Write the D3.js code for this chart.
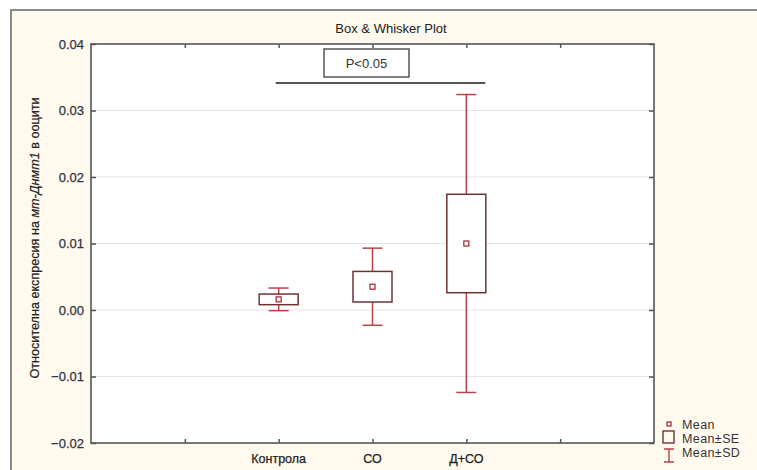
<!DOCTYPE html>
<html>
<head>
<meta charset="utf-8">
<script src="https://cdn.jsdelivr.net/npm/d3@7"></script>
<style>
  html, body { margin: 0; padding: 0; background: #fff; overflow: hidden; width: 757px; height: 470px; }
  svg { display: block; overflow: hidden; font-family: "Liberation Sans", Arial, sans-serif; }
</style>
</head>
<body>
<svg id="chart" width="757" height="470"></svg>
<script>
// group names and statistics
var categories = ["Контрола", "СО", "Д+СО"];
var means = [0.0016, 0.0035, 0.0100];
var stdErrors = [0.0008, 0.0023, 0.0074];
var stdDevs = [0.0017, 0.0058, 0.0224];
var yTicks = [-0.02, -0.01, 0.00, 0.01, 0.02, 0.03, 0.04];

var svg = d3.select('#chart');

var red = '#b8424a';
var darkRed = '#6e3434';
var frame = '#555';

// cream panel behind everything, only its top and left border are in view
svg.append('rect')
  .attr('x', 11).attr('y', 10)
  .attr('width', 760).attr('height', 470)
  .attr('fill', '#fff9ee');
svg.append('line')
  .attr('x1', 11).attr('x2', 11).attr('y1', 9).attr('y2', 480)
  .attr('stroke', '#8a8a8a').attr('stroke-width', 2);
svg.append('line')
  .attr('x1', 10).attr('x2', 780).attr('y1', 10).attr('y2', 10)
  .attr('stroke', '#8a8a8a').attr('stroke-width', 2);

var plotLeft = 91, plotRight = 654, plotTop = 44, plotBottom = 443;

// 7 slots, groups sit in slots 2..4
var x = d3.scaleLinear().domain([0, 6]).range([plotLeft, plotRight]);
var y = d3.scaleLinear().domain([-0.02, 0.04]).range([plotBottom, plotTop]);

svg.append('rect')
  .attr('x', plotLeft).attr('y', plotTop)
  .attr('width', plotRight - plotLeft).attr('height', plotBottom - plotTop)
  .attr('fill', '#fff');

// gridlines
svg.append('g')
  .selectAll('line')
  .data(yTicks.slice(1, -1))
  .enter()
  .append('line')
  .attr('x1', plotLeft).attr('x2', plotRight)
  .attr('y1', d => y(d)).attr('y2', d => y(d))
  .attr('stroke', '#e4e4e4')
  .attr('stroke-width', 1);

// axes, ticks pointing inward on all sides
var tickFmt = d3.format('.2f');
var yAxis = svg.append('g')
  .attr('transform', 'translate(' + plotLeft + ',0)')
  .call(d3.axisRight(y).tickValues(yTicks).tickSize(5).tickFormat(''));
var yAxisR = svg.append('g')
  .attr('transform', 'translate(' + plotRight + ',0)')
  .call(d3.axisLeft(y).tickValues(yTicks).tickSize(5).tickFormat(''));
var xAxisB = svg.append('g')
  .attr('transform', 'translate(0,' + plotBottom + ')')
  .call(d3.axisTop(x).tickValues([1, 2, 3, 4, 5]).tickSize(4).tickFormat(''));
var xAxisT = svg.append('g')
  .attr('transform', 'translate(0,' + plotTop + ')')
  .call(d3.axisBottom(x).tickValues([1, 2, 3, 4, 5]).tickSize(4).tickFormat(''));
[yAxis, yAxisR, xAxisB, xAxisT].forEach(function(g) {
  g.select('.domain').remove();
  g.selectAll('.tick line').attr('stroke', frame).attr('stroke-width', 1.5);
});

svg.append('rect')
  .attr('x', plotLeft).attr('y', plotTop)
  .attr('width', plotRight - plotLeft).attr('height', plotBottom - plotTop)
  .attr('fill', 'none')
  .attr('stroke', frame)
  .attr('stroke-width', 1.6);

// y tick labels
svg.append('g')
  .selectAll('text')
  .data(yTicks)
  .enter()
  .append('text')
  .attr('x', 84)
  .attr('y', d => y(d) + 4.5)
  .attr('text-anchor', 'end')
  .attr('font-size', 13)
  .attr('fill', '#2e3340')
  .attr('stroke', '#2e3340').attr('stroke-width', 0.25)
  .text(d => tickFmt(d));

// x labels
svg.append('g')
  .selectAll('text')
  .data(categories)
  .enter()
  .append('text')
  .attr('x', (d, i) => x(i + 2))
  .attr('y', 463)
  .attr('text-anchor', 'middle')
  .attr('font-size', 12.5)
  .attr('fill', '#222')
  .attr('stroke', '#222').attr('stroke-width', 0.25)
  .text(d => d);

// title
svg.append('text')
  .attr('x', 391).attr('y', 33)
  .attr('text-anchor', 'middle')
  .attr('font-size', 13)
  .attr('fill', '#222')
  .text('Box & Whisker Plot');

// y axis title
var yTitle = svg.append('text')
  .attr('transform', 'translate(39,238) rotate(-90)')
  .attr('text-anchor', 'middle')
  .attr('font-size', 12.5)
  .attr('fill', '#222')
  .attr('stroke', '#222').attr('stroke-width', 0.2)
  .attr('font-family', '"Liberation Sans Narrow", "Liberation Sans", Arial, sans-serif')
  .attr('textLength', 281)
  .attr('lengthAdjust', 'spacingAndGlyphs');
yTitle.append('tspan').text('Относителна експресия на ');
yTitle.append('tspan').attr('font-style', 'italic').text('мт-Днмт1');
yTitle.append('tspan').text(' в ооцити');

// boxes and whiskers
var halfBox = 19.5, halfCap = 10;
var groups = svg.append('g')
  .selectAll('g')
  .data(categories)
  .enter()
  .append('g');

groups.append('line')
  .attr('x1', (d, i) => x(i + 2)).attr('x2', (d, i) => x(i + 2))
  .attr('y1', (d, i) => y(means[i] + stdDevs[i]))
  .attr('y2', (d, i) => y(means[i] - stdDevs[i]))
  .attr('stroke', red).attr('stroke-width', 1.5);
[1, -1].forEach(function(s) {
  groups.append('line')
    .attr('x1', (d, i) => x(i + 2) - halfCap).attr('x2', (d, i) => x(i + 2) + halfCap)
    .attr('y1', (d, i) => y(means[i] + s * stdDevs[i]))
    .attr('y2', (d, i) => y(means[i] + s * stdDevs[i]))
    .attr('stroke', red).attr('stroke-width', 1.5);
});
groups.append('rect')
  .attr('x', (d, i) => x(i + 2) - halfBox)
  .attr('y', (d, i) => y(means[i] + stdErrors[i]))
  .attr('width', halfBox * 2)
  .attr('height', (d, i) => y(means[i] - stdErrors[i]) - y(means[i] + stdErrors[i]))
  .attr('fill', '#fff')
  .attr('stroke', darkRed).attr('stroke-width', 1.5);
groups.append('rect')
  .attr('x', (d, i) => x(i + 2) - 2.5)
  .attr('y', (d, i) => y(means[i]) - 2.5)
  .attr('width', 5).attr('height', 5)
  .attr('fill', '#fff')
  .attr('stroke', '#a3333b').attr('stroke-width', 1.3);

// significance annotation
svg.append('line')
  .attr('x1', x(2) - 3).attr('x2', x(4) + 19)
  .attr('y1', 83).attr('y2', 83)
  .attr('stroke', '#555').attr('stroke-width', 1.8);
svg.append('rect')
  .attr('x', 324).attr('y', 49)
  .attr('width', 85).attr('height', 28)
  .attr('fill', '#fff')
  .attr('stroke', '#555').attr('stroke-width', 1.5);
svg.append('text')
  .attr('x', 366.5).attr('y', 68)
  .attr('text-anchor', 'middle')
  .attr('font-size', 13)
  .attr('fill', '#333')
  .text('P<0.05');

// legend
var lg = svg.append('g');
lg.append('rect')
  .attr('x', 667).attr('y', 422).attr('width', 4).attr('height', 4)
  .attr('fill', 'none').attr('stroke', '#a3333b').attr('stroke-width', 1.3);
lg.append('rect')
  .attr('x', 663).attr('y', 431).attr('width', 11).attr('height', 12)
  .attr('fill', 'none').attr('stroke', darkRed).attr('stroke-width', 1.4);
lg.append('path')
  .attr('d', 'M664,449H674M669,449V462M664,462H674')
  .attr('fill', 'none').attr('stroke', red).attr('stroke-width', 1.4);
lg.selectAll('text')
  .data(['Mean', 'Mean±SE', 'Mean±SD'])
  .enter()
  .append('text')
  .attr('x', 682)
  .attr('y', (d, i) => 429 + i * 14)
  .attr('font-size', 12.5)
  .attr('fill', '#333')
  .attr('letter-spacing', 0.4)
  .text(d => d);
</script>
</body>
</html>
